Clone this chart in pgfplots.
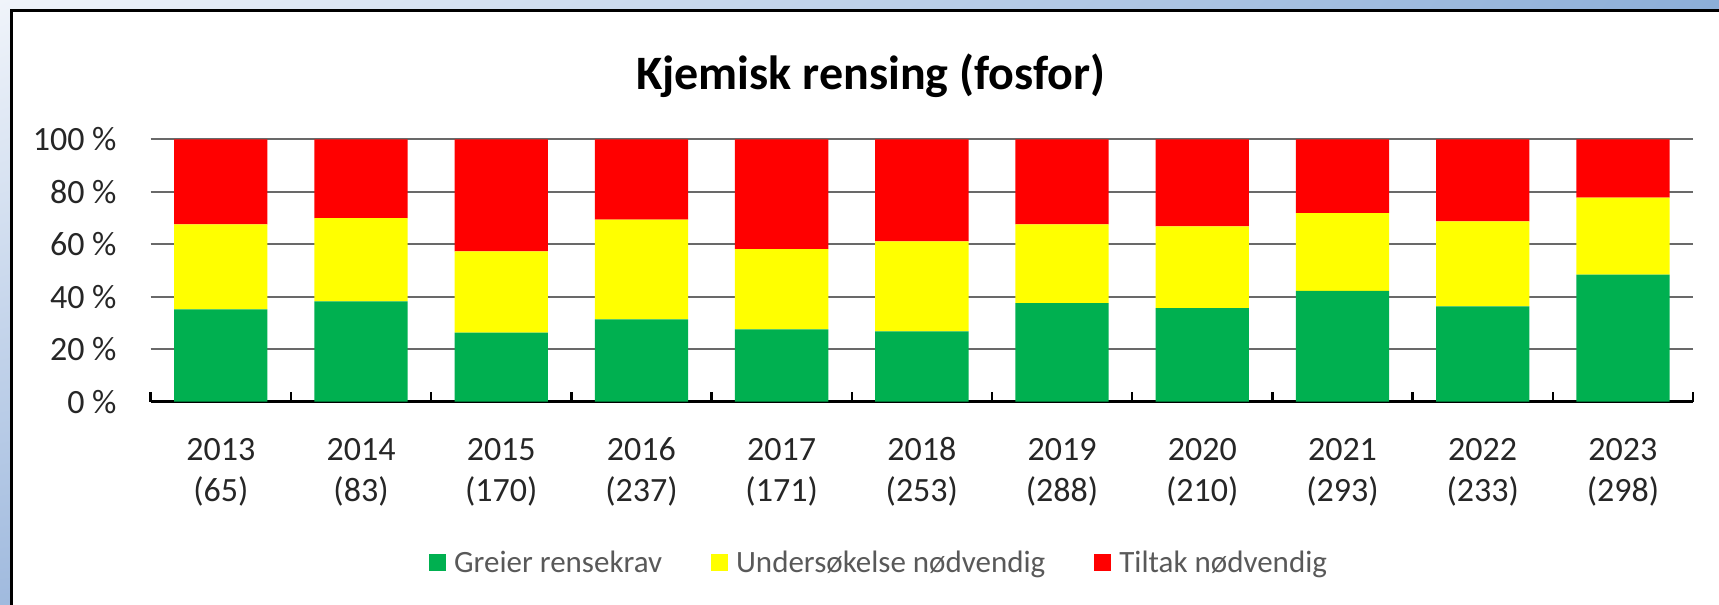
\documentclass[border=0pt]{standalone}
\usepackage{fontspec}
\setmainfont{Carlito}
\usepackage{pgfplots}
\pgfplotsset{compat=1.18}
\usetikzlibrary{shadings}
\definecolor{cgreen}{HTML}{00B050}
\definecolor{cyellow}{HTML}{FFFF00}
\definecolor{cred}{HTML}{FF0000}
\definecolor{gridc}{RGB}{105,105,105}
\definecolor{tickc}{RGB}{38,38,38}
\definecolor{legc}{RGB}{89,89,89}
\definecolor{bgul}{RGB}{240,244,250}
\definecolor{bgur}{RGB}{140,174,216}
\definecolor{bgll}{RGB}{160,186,222}
\definecolor{bglr}{RGB}{120,155,205}
\begin{document}
\begin{tikzpicture}
\useasboundingbox (0,0) rectangle (1719bp,605bp);
\begin{scope}
\clip (0,0) rectangle (1719bp,605bp);
\shade[upper left=bgul, upper right=bgur, lower left=bgll, lower right=bglr]
  (0,0) rectangle (1719bp,605bp);
\draw[line width=3bp, fill=white] (11bp,-20bp) rectangle (1760bp,594bp);
\end{scope}
\node[font=\fontsize{48bp}{58bp}\selectfont\bfseries, anchor=base] at (871bp,515bp) {Kjemisk rensing (fosfor)};
\begin{axis}[
  at={(150.7bp,203.3bp)}, anchor=south west,
  scale only axis, width=1542.3bp, height=262.4bp,
  ybar stacked, bar width=93.3bp,
  xmin=-0.5, xmax=10.5, ymin=0, ymax=100,
  enlargelimits=false,
  axis x line*=bottom, axis y line*=left,
  y axis line style={draw=none},
  x axis line style={black, line width=2.8bp},
  xtick={0,...,10},
  xticklabels={2013,2014,2015,2016,2017,2018,2019,2020,2021,2022,2023},
  extra x ticks={0,...,10},
  extra x tick labels={(65),(83),(170),(237),(171),(253),(288),(210),(293),(233),(298)},
  extra x tick style={xticklabel style={yshift=-41bp}},
  minor xtick={-0.5,0.5,...,10.5},
  tick align=inside,
  major tick length=0pt,
  minor tick length=10bp,
  minor tick style={black, line width=2.5bp},
  ytick={0,20,...,100},
  yticklabels={0 \%,20 \%,40 \%,60 \%,80 \%,100 \%},
  ymajorgrids, grid style={gridc, line width=2.4bp},
  xticklabel style={font=\fontsize{34bp}{41bp}\selectfont, text=tickc, anchor=base, inner sep=0pt, yshift=-59bp},
  yticklabel style={font=\fontsize{34bp}{41bp}\selectfont, text=tickc, anchor=east, inner sep=0pt, xshift=-34bp},
  legend columns=3,
  legend style={at={(0.4716,-0.611)}, anchor=center, draw=none, fill=none,
    font=\fontsize{31bp}{37bp}\selectfont, text=legc,
    nodes={inner sep=0pt},
    /tikz/every odd column/.append style={column sep=8bp},
    /tikz/every even column/.append style={column sep=49bp}},
]
\addplot[fill=cgreen, draw=none, legend image code/.code={\fill[cgreen] (0bp,-8.5bp) rectangle (17bp,8.5bp);}] coordinates {
(0,35.2) (1,38.2) (2,26.3) (3,31.4) (4,27.6) (5,26.8) (6,37.6) (7,35.7) (8,42.2) (9,36.3) (10,48.4)};
\addplot[fill=cyellow, draw=none, legend image code/.code={\fill[cyellow] (0bp,-8.5bp) rectangle (17bp,8.5bp);}] coordinates {
(0,32.4) (1,31.8) (2,31.0) (3,38.0) (4,30.5) (5,34.3) (6,30.0) (7,31.1) (8,29.7) (9,32.4) (10,29.4)};
\addplot[fill=cred, draw=none, legend image code/.code={\fill[cred] (0bp,-8.5bp) rectangle (17bp,8.5bp);}] coordinates {
(0,32.4) (1,30.0) (2,42.7) (3,30.6) (4,41.9) (5,38.9) (6,32.4) (7,33.2) (8,28.1) (9,31.3) (10,22.2)};
\legend{Greier rensekrav, Undersøkelse nødvendig, Tiltak nødvendig}
\end{axis}
\end{tikzpicture}
\end{document}
